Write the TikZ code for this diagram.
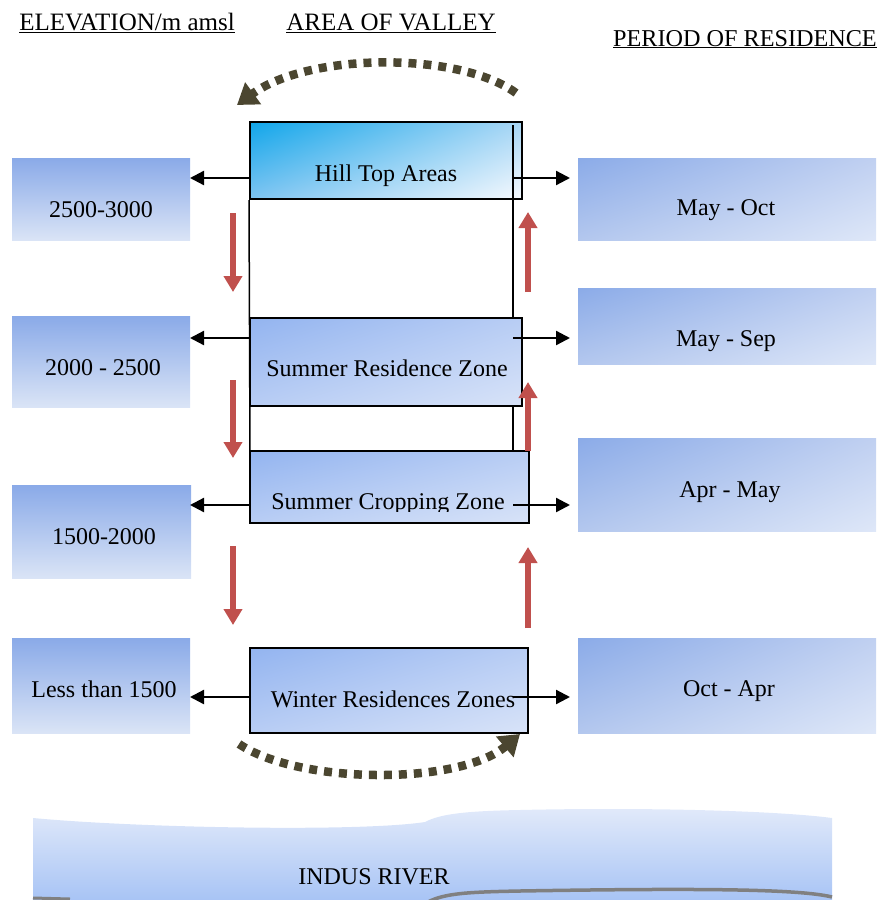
\documentclass[tikz,border=0pt]{standalone}
\usepackage{fontspec}
\setmainfont{Liberation Serif}
\usetikzlibrary{arrows.meta,shadings}
\definecolor{lbtop}{HTML}{8AAAE8}
\definecolor{lbbot}{HTML}{DAE4F6}
\definecolor{rbul}{HTML}{8BABE8}
\definecolor{rbur}{HTML}{C0D0F1}
\definecolor{rbll}{HTML}{B3C7EE}
\definecolor{rblr}{HTML}{DEE7F8}
\definecolor{cbul}{HTML}{93B4F0}
\definecolor{cbmid}{HTML}{B8CDF4}
\definecolor{cblr}{HTML}{D8E3F8}
\definecolor{hul}{HTML}{10A6EA}
\definecolor{hur}{HTML}{A8D6F5}
\definecolor{hll}{HTML}{7EC4F1}
\definecolor{hlr}{HTML}{F5F9FE}
\definecolor{redarr}{HTML}{C0504D}
\definecolor{olive}{HTML}{4B4630}
\definecolor{rivtop}{HTML}{E2EAFA}
\definecolor{rivbot}{HTML}{A8C4F5}
\tikzset{
  lbox/.style={draw=none, inner sep=0pt, top color=lbtop, bottom color=lbbot},
  rbox/.style={draw=none, inner sep=0pt, shade, upper left=rbul, upper right=rbur, lower left=rbll, lower right=rblr},
  cbox/.style={draw=black, line width=2pt, inner sep=0pt, shade, upper left=cbul, upper right=cbmid, lower left=cbmid, lower right=cblr},
  hbox/.style={draw=black, line width=2pt, inner sep=0pt, shade, upper left=hul, upper right=hur, lower left=hll, lower right=hlr},
  txt/.style={anchor=base, inner sep=0pt},
  hdr/.style={anchor=base, inner sep=0pt, font=\fontsize{25}{30}\selectfont},
  blk/.style={line width=2.3pt, -{Triangle[length=14pt,width=14pt]}},
  redup/.style={line width=6pt, redarr, -{Triangle[length=16pt,width=18pt]}},
  dotarr/.style={line width=8.5pt, olive, dash pattern=on 8pt off 7pt, -{Triangle[length=20pt,width=26pt]}},
}
\begin{document}
\begin{tikzpicture}[x=1pt,y=-1pt, font=\fontsize{24}{29}\selectfont]
\useasboundingbox (0,0) rectangle (879,900);
% headers
\node[hdr] (h1) at (127,30) {\underline{ELEVATION/m amsl}};
\node[hdr] (h2) at (391,30) {\underline{AREA OF VALLEY}};
\node[hdr, font=\fontsize{24.2}{29}\selectfont] (h3) at (745,46) {\underline{PERIOD OF RESIDENCE}};
% left boxes
\node[lbox, minimum width=178pt, minimum height=82pt] (l1) at (101,199) {};
\node[lbox, minimum width=178pt, minimum height=91pt] (l2) at (101,361.5) {};
\node[lbox, minimum width=179pt, minimum height=93pt] (l3) at (101.5,531.5) {};
\node[lbox, minimum width=178pt, minimum height=95pt] (l4) at (101,685.5) {};
\node[txt] (tl1) at (101,217) {2500-3000};
\node[txt] (tl2) at (103,375) {2000 - 2500};
\node[txt] (tl3) at (104,544) {1500-2000};
\node[txt] (tl4) at (104,697) {Less than 1500};
% right boxes
\node[rbox, minimum width=298pt, minimum height=82pt] (r1) at (727,199) {};
\node[rbox, minimum width=298pt, minimum height=76pt] (r2) at (727,326) {};
\node[rbox, minimum width=298pt, minimum height=93pt] (r3) at (727,484.5) {};
\node[rbox, minimum width=298pt, minimum height=95pt] (r4) at (727,685.5) {};
\node[txt] (tr1) at (726,215) {May - Oct};
\node[txt] (tr2) at (726,346) {May - Sep};
\node[txt] (tr3) at (730,497) {Apr - May};
\node[txt] (tr4) at (729,696) {Oct - Apr};
% centre
\node[hbox, minimum width=272pt, minimum height=77pt] (c1) at (386,160.5) {};
\node[txt] (tc1) at (386,181) {Hill Top Areas};
\coordinate (vt) at (513,125);
\coordinate (vb) at (513,451);
\draw[line width=1.5pt] (vt) -- (vb);
\draw[line width=1.5pt] (c1.south west) -- (250,451);
\node[cbox, minimum width=272pt, minimum height=88pt] (c2) at (386,362) {};
\node[txt] (tc2) at (387,376) {Summer Residence Zone};
\node[cbox, minimum width=279pt, minimum height=72pt] (c3) at (389.5,487) {};
\begin{scope}
\clip (250,451) rectangle (529,511);
\node[txt] (tc3) at (388,509) {Summer Cropping Zone};
\end{scope}
\node[cbox, minimum width=278pt, minimum height=85pt] (c4) at (389,690.5) {};
\node[txt] (tc4) at (393,707) {Winter Residences Zones};
% black arrows
\foreach \i/\y in {1/178,2/338,3/505,4/697}{
  \coordinate (aL\i) at (190,\y);
  \coordinate (sR\i) at (513,\y);
  \coordinate (aR\i) at (570,\y);
}
\draw[blk] (c1.west |- aL1) -- (aL1);
\draw[blk] (c2.west |- aL2) -- (aL2);
\draw[blk] (c3.west |- aL3) -- (aL3);
\draw[blk] (c4.west |- aL4) -- (aL4);
\draw[blk] (sR1) -- (aR1);
\draw[blk] (sR2) -- (aR2);
\draw[blk] (sR3) -- (aR3);
\draw[blk] (sR4) -- (aR4);
% red arrows
\coordinate (d1a) at (233,213); \coordinate (d1b) at (233,292);
\coordinate (d2a) at (233,380); \coordinate (d2b) at (233,458);
\coordinate (d3a) at (233,546); \coordinate (d3b) at (233,625);
\coordinate (u1a) at (528,292); \coordinate (u1b) at (528,212);
\coordinate (u2a) at (528,451); \coordinate (u2b) at (528,382);
\coordinate (u3a) at (528,628); \coordinate (u3b) at (528,547);
\draw[redup] (d1a) -- (d1b);
\draw[redup] (d2a) -- (d2b);
\draw[redup] (d3a) -- (d3b);
\draw[redup] (u1a) -- (u1b);
\draw[redup] (u2a) -- (u2b);
\draw[redup] (u3a) -- (u3b);
% dotted curved arrows
\coordinate (ts) at (516,93);
\coordinate (te) at (237,105);
\draw[dotarr] (ts) .. controls (460,52) and (310,52) .. (te);
\coordinate (bs) at (239,744);
\coordinate (be) at (520,734);
\draw[dotarr] (bs) .. controls (300,785) and (460,785) .. (be);
% river
\shade[top color=rivtop, bottom color=rivbot]
  (33,818) .. controls (140,828) and (360,832) .. (425,822)
  .. controls (440,814) and (465,811) .. (520,810)
  .. controls (650,807) and (780,811) .. (832,818)
  -- (832,900) -- (33,900) -- cycle;
\draw[gray, line width=3.5pt] (428,902) .. controls (445,893) and (470,892) .. (520,891)
  .. controls (700,888) and (800,889) .. (832,897);
\draw[gray, line width=3pt] (33,898) -- (70,899);
\node[txt] (river) at (374,884) {INDUS RIVER};
\end{tikzpicture}
\end{document}
